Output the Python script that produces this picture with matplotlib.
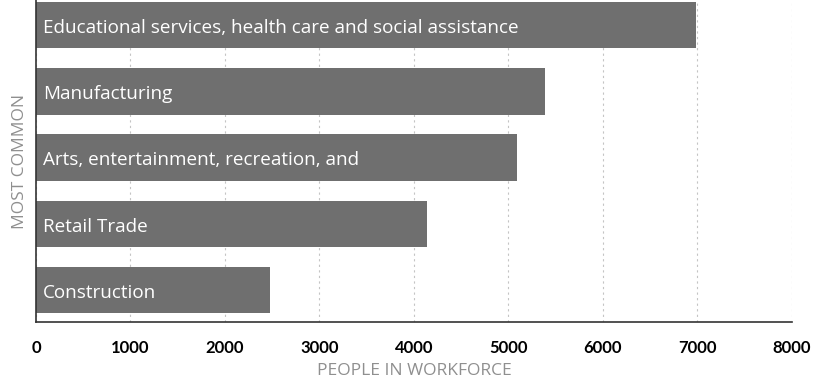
import matplotlib.pyplot as plt

# industries, most common first
industries = [
    "Educational services, health care and social assistance",
    "Manufacturing",
    "Arts, entertainment, recreation, and",
    "Retail Trade",
    "Construction",
]
workers = [6980, 5390, 5090, 4140, 2480]
x_ticks = [0, 1000, 2000, 3000, 4000, 5000, 6000, 7000, 8000]

bar_color = "#6f6f6f"
grid_color = "#c4c4c4"
label_gray = "#8f8f8f"

fig = plt.figure(figsize=(8.31, 3.83), dpi=100)
ax = fig.add_axes([0.0433, 0.1593, 0.9097, 0.8407])

positions = list(range(len(industries)))[::-1]
ax.barh(positions, workers, height=0.7, color=bar_color, zorder=2)

for pos, name in zip(positions, industries):
    ax.text(75, pos - 0.04, name, color="white", fontsize=13.6, family="Open Sans",
            va="center", ha="left", zorder=3)

ax.set_xlim(0, 8000)
ax.set_ylim(-0.48, 4.38)
ax.set_xticks(x_ticks)
ax.set_xticklabels([str(t) for t in x_ticks], family="Lato", weight="bold", fontsize=12)
ax.set_yticks([])
ax.tick_params(axis="x", length=0, pad=13)

ax.grid(axis="x", linestyle=(0, (2, 3)), color=grid_color, linewidth=0.8, zorder=1)

for side in ["top", "right"]:
    ax.spines[side].set_visible(False)
ax.spines["left"].set_color("#333333")
ax.spines["bottom"].set_color("#333333")
ax.spines["left"].set_linewidth(1.2)
ax.spines["bottom"].set_linewidth(1.2)

ax.set_xlabel("PEOPLE IN WORKFORCE", family="Open Sans", fontsize=12.5,
              color=label_gray, labelpad=5)
ax.set_ylabel("MOST COMMON", family="Open Sans", fontsize=12.5,
              color=label_gray, labelpad=6)

plt.savefig("out.png", dpi=100)
